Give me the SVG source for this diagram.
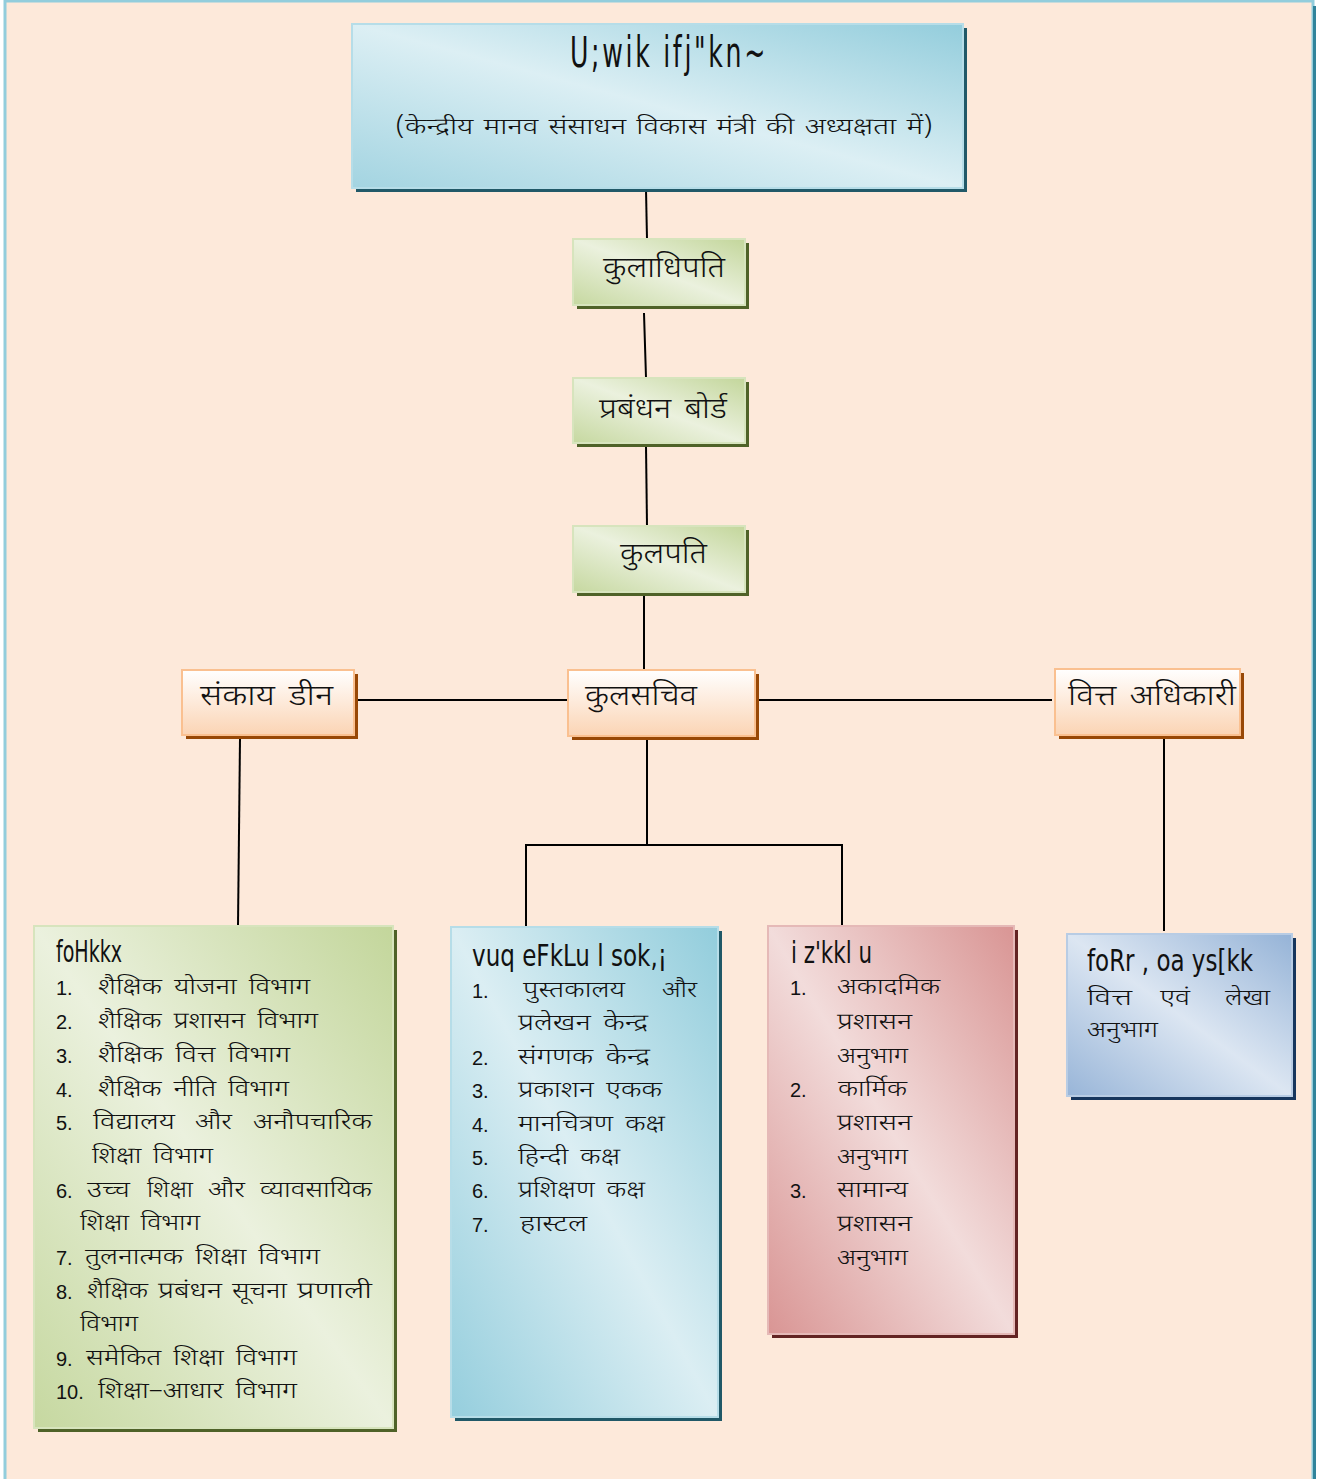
<svg xmlns="http://www.w3.org/2000/svg" width="1317" height="1479" viewBox="0 0 1317 1479">
<defs>
<linearGradient id="gTop" x1="0" y1="1" x2="1" y2="0"><stop offset="0" stop-color="#a3d4e1"/><stop offset="0.5" stop-color="#dcEff4"/><stop offset="1" stop-color="#93cddc"/></linearGradient>
<linearGradient id="gGreen" x1="0" y1="1" x2="1" y2="0"><stop offset="0" stop-color="#c6d8a0"/><stop offset="0.5" stop-color="#ebf1de"/><stop offset="1" stop-color="#c3d69b"/></linearGradient>
<linearGradient id="gOrange" x1="0" y1="0" x2="0" y2="1"><stop offset="0" stop-color="#ffffff"/><stop offset="1" stop-color="#fbd4b4"/></linearGradient>
<linearGradient id="gBlue" x1="0" y1="1" x2="1" y2="0"><stop offset="0" stop-color="#95cedd"/><stop offset="0.5" stop-color="#dbeef3"/><stop offset="1" stop-color="#92cddc"/></linearGradient>
<linearGradient id="gRed" x1="0" y1="1" x2="1" y2="0"><stop offset="0" stop-color="#d99594"/><stop offset="0.5" stop-color="#f2dcdb"/><stop offset="1" stop-color="#d99594"/></linearGradient>
<linearGradient id="gSky" x1="0" y1="1" x2="1" y2="0"><stop offset="0" stop-color="#98b5d8"/><stop offset="0.5" stop-color="#dce6f2"/><stop offset="1" stop-color="#95b3d7"/></linearGradient>
</defs>
<style>
.dv{font-family:"Noto Sans Devanagari","Noto Sans","Liberation Sans",sans-serif;fill:#111;font-weight:300}
.num{font-family:"Liberation Sans",Arial,sans-serif;font-size:20px;fill:#111}
.kd{font-family:"Liberation Sans Narrow","DejaVu Sans Condensed","Liberation Sans",sans-serif;fill:#111}
.t22{font-size:23px}
.t28{font-size:28px}
.conn{stroke:#000;stroke-width:2;fill:none}
</style>
<rect x="5" y="1" width="1308" height="1480" fill="#fde9da" stroke="#92cddc" stroke-width="3"/>
<rect x="1313" y="6" width="3" height="1473" fill="#31849b"/>

<g id="connectors">
<line class="conn" x1="646" y1="190" x2="647" y2="239"/>
<line class="conn" x1="644" y1="313" x2="646" y2="378"/>
<line class="conn" x1="646" y1="446" x2="647" y2="526"/>
<line class="conn" x1="644" y1="594" x2="644" y2="670"/>
<line class="conn" x1="356" y1="700" x2="568" y2="700"/>
<line class="conn" x1="758" y1="700" x2="1052" y2="700"/>
<line class="conn" x1="240" y1="739" x2="238" y2="926"/>
<polyline class="conn" points="647,739 647,845"/>
<polyline class="conn" points="526,928 526,845 842,845 842,926"/>
<line class="conn" x1="1164" y1="739" x2="1164" y2="931"/>
</g>

<g id="node-council">
<rect x="356" y="28" width="611" height="164" fill="#215968"/>
<rect x="352" y="24" width="611" height="164" fill="url(#gTop)" stroke="#b6dde8" stroke-width="2"/>
<text class="kd" x="570" y="67" font-size="42" textLength="198" lengthAdjust="spacingAndGlyphs" letter-spacing="4">U;wik ifj"kn~</text>
<text class="dv" x="395" y="134" font-size="23" textLength="538" lengthAdjust="spacingAndGlyphs" word-spacing="2">(केन्द्रीय मानव संसाधन  विकास मंत्री की अध्यक्षता में)</text>
</g>

<g id="node-kuladhipati">
<rect x="577" y="243" width="172" height="66" fill="#4f6228"/>
<rect x="573" y="239" width="172" height="66" fill="url(#gGreen)" stroke="#d7e4bd" stroke-width="2"/>
<text class="dv t28" x="603" y="277" textLength="122" lengthAdjust="spacingAndGlyphs">कुलाधिपति</text>
</g>

<g id="node-board">
<rect x="577" y="382" width="172" height="65" fill="#4f6228"/>
<rect x="573" y="378" width="172" height="65" fill="url(#gGreen)" stroke="#d7e4bd" stroke-width="2"/>
<text class="dv t28" x="599" y="418" textLength="128" lengthAdjust="spacingAndGlyphs" word-spacing="4">प्रबंधन बोर्ड</text>
</g>

<g id="node-kulpati">
<rect x="577" y="530" width="172" height="66" fill="#4f6228"/>
<rect x="573" y="526" width="172" height="66" fill="url(#gGreen)" stroke="#d7e4bd" stroke-width="2"/>
<text class="dv t28" x="620" y="563" textLength="87" lengthAdjust="spacingAndGlyphs">कुलपति</text>
</g>

<g id="node-dean">
<rect x="186" y="674" width="172" height="65" fill="#984806"/>
<rect x="182" y="670" width="172" height="65" fill="url(#gOrange)" stroke="#fac090" stroke-width="2"/>
<text class="dv t28" x="200" y="705" textLength="133" lengthAdjust="spacingAndGlyphs" word-spacing="4">संकाय डीन</text>
</g>

<g id="node-registrar">
<rect x="572" y="674" width="187" height="66" fill="#984806"/>
<rect x="568" y="670" width="187" height="66" fill="url(#gOrange)" stroke="#fac090" stroke-width="2"/>
<text class="dv t28" x="585" y="705" textLength="112" lengthAdjust="spacingAndGlyphs">कुलसचिव</text>
</g>

<g id="node-finance-officer">
<rect x="1059" y="673" width="185" height="66" fill="#984806"/>
<rect x="1055" y="669" width="185" height="66" fill="url(#gOrange)" stroke="#fac090" stroke-width="2"/>
<text class="dv t28" x="1068" y="705" textLength="168" lengthAdjust="spacingAndGlyphs" word-spacing="4">वित्त अधिकारी</text>
</g>

<g id="node-departments">
<rect x="38" y="930" width="359" height="502" fill="#4f6228"/>
<rect x="34" y="926" width="359" height="502" fill="url(#gGreen)" stroke="#d7e4bd" stroke-width="2"/>
<text class="kd" x="56" y="962" font-size="30" textLength="66" lengthAdjust="spacingAndGlyphs">foHkkx</text>
<text class="num" x="56" y="995">1.</text><text class="dv t22" x="98" y="994" textLength="212" lengthAdjust="spacingAndGlyphs" word-spacing="4">शैक्षिक योजना विभाग</text>
<text class="num" x="56" y="1029">2.</text><text class="dv t22" x="98" y="1028" textLength="220" lengthAdjust="spacingAndGlyphs" word-spacing="4">शैक्षिक प्रशासन विभाग</text>
<text class="num" x="56" y="1063">3.</text><text class="dv t22" x="98" y="1062" textLength="192" lengthAdjust="spacingAndGlyphs" word-spacing="4">शैक्षिक वित्त विभाग</text>
<text class="num" x="56" y="1097">4.</text><text class="dv t22" x="98" y="1096" textLength="191" lengthAdjust="spacingAndGlyphs" word-spacing="4">शैक्षिक नीति विभाग</text>
<text class="num" x="56" y="1130">5.</text>
<text class="dv t22" x="93" y="1129" textLength="82" lengthAdjust="spacingAndGlyphs">विद्यालय</text>
<text class="dv t22" x="195" y="1129" textLength="37" lengthAdjust="spacingAndGlyphs">और</text>
<text class="dv t22" x="253" y="1129" textLength="119" lengthAdjust="spacingAndGlyphs">अनौपचारिक</text>
<text class="dv t22" x="92" y="1163" textLength="121" lengthAdjust="spacingAndGlyphs" word-spacing="4">शिक्षा विभाग</text>
<text class="num" x="56" y="1198">6.</text>
<text class="dv t22" x="87" y="1197" textLength="43" lengthAdjust="spacingAndGlyphs">उच्च</text>
<text class="dv t22" x="147" y="1197" textLength="46" lengthAdjust="spacingAndGlyphs">शिक्षा</text>
<text class="dv t22" x="208" y="1197" textLength="37" lengthAdjust="spacingAndGlyphs">और</text>
<text class="dv t22" x="260" y="1197" textLength="112" lengthAdjust="spacingAndGlyphs">व्यावसायिक</text>
<text class="dv t22" x="80" y="1230" textLength="120" lengthAdjust="spacingAndGlyphs" word-spacing="4">शिक्षा विभाग</text>
<text class="num" x="56" y="1265">7.</text><text class="dv t22" x="85" y="1264" textLength="235" lengthAdjust="spacingAndGlyphs" word-spacing="4">तुलनात्मक शिक्षा विभाग</text>
<text class="num" x="56" y="1299">8.</text>
<text class="dv t22" x="87" y="1298" textLength="61" lengthAdjust="spacingAndGlyphs">शैक्षिक</text>
<text class="dv t22" x="158" y="1298" textLength="64" lengthAdjust="spacingAndGlyphs">प्रबंधन</text>
<text class="dv t22" x="232" y="1298" textLength="55" lengthAdjust="spacingAndGlyphs">सूचना</text>
<text class="dv t22" x="297" y="1298" textLength="75" lengthAdjust="spacingAndGlyphs">प्रणाली</text>
<text class="dv t22" x="80" y="1331" textLength="58" lengthAdjust="spacingAndGlyphs">विभाग</text>
<text class="num" x="56" y="1366">9.</text><text class="dv t22" x="86" y="1365" textLength="211" lengthAdjust="spacingAndGlyphs" word-spacing="4">समेकित शिक्षा विभाग</text>
<text class="num" x="56" y="1399">10.</text><text class="dv t22" x="98" y="1398" textLength="199" lengthAdjust="spacingAndGlyphs" word-spacing="4">शिक्षा–आधार विभाग</text>
</g>

<g id="node-academic-support">
<rect x="455" y="931" width="267" height="490" fill="#205867"/>
<rect x="451" y="927" width="267" height="490" fill="url(#gBlue)" stroke="#b6dde8" stroke-width="2"/>
<text class="kd" x="472" y="966" font-size="30" textLength="195" lengthAdjust="spacingAndGlyphs">vuq eFkLu l sok,¡</text>
<text class="num" x="472" y="998">1.</text>
<text class="dv t22" x="523" y="997" textLength="102" lengthAdjust="spacingAndGlyphs">पुस्तकालय</text>
<text class="dv t22" x="662" y="997" textLength="35" lengthAdjust="spacingAndGlyphs">और</text>
<text class="dv t22" x="518" y="1030" textLength="130" lengthAdjust="spacingAndGlyphs" word-spacing="4">प्रलेखन केन्द्र</text>
<text class="num" x="472" y="1065">2.</text><text class="dv t22" x="518" y="1064" textLength="132" lengthAdjust="spacingAndGlyphs" word-spacing="4">संगणक केन्द्र</text>
<text class="num" x="472" y="1098">3.</text><text class="dv t22" x="518" y="1097" textLength="144" lengthAdjust="spacingAndGlyphs" word-spacing="4">प्रकाशन एकक</text>
<text class="num" x="472" y="1132">4.</text><text class="dv t22" x="518" y="1131" textLength="147" lengthAdjust="spacingAndGlyphs" word-spacing="4">मानचित्रण कक्ष</text>
<text class="num" x="472" y="1165">5.</text><text class="dv t22" x="518" y="1164" textLength="102" lengthAdjust="spacingAndGlyphs" word-spacing="4">हिन्दी कक्ष</text>
<text class="num" x="472" y="1198">6.</text><text class="dv t22" x="518" y="1197" textLength="127" lengthAdjust="spacingAndGlyphs" word-spacing="4">प्रशिक्षण कक्ष</text>
<text class="num" x="472" y="1232">7.</text><text class="dv t22" x="520" y="1231" textLength="67" lengthAdjust="spacingAndGlyphs">हास्टल</text>
</g>

<g id="node-administration">
<rect x="772" y="930" width="246" height="408" fill="#632423"/>
<rect x="768" y="926" width="246" height="408" fill="url(#gRed)" stroke="#e5b9b7" stroke-width="2"/>
<text class="kd" x="791" y="963" font-size="30" textLength="81" lengthAdjust="spacingAndGlyphs">i z'kkl u</text>
<text class="num" x="790" y="995">1.</text><text class="dv t22" x="837" y="994" textLength="103" lengthAdjust="spacingAndGlyphs">अकादमिक</text>
<text class="dv t22" x="837" y="1029" textLength="75" lengthAdjust="spacingAndGlyphs">प्रशासन</text>
<text class="dv t22" x="837" y="1063" textLength="71" lengthAdjust="spacingAndGlyphs">अनुभाग</text>
<text class="num" x="790" y="1097">2.</text><text class="dv t22" x="838" y="1096" textLength="69" lengthAdjust="spacingAndGlyphs">कार्मिक</text>
<text class="dv t22" x="837" y="1130" textLength="75" lengthAdjust="spacingAndGlyphs">प्रशासन</text>
<text class="dv t22" x="837" y="1164" textLength="71" lengthAdjust="spacingAndGlyphs">अनुभाग</text>
<text class="num" x="790" y="1198">3.</text><text class="dv t22" x="837" y="1197" textLength="71" lengthAdjust="spacingAndGlyphs">सामान्य</text>
<text class="dv t22" x="837" y="1231" textLength="75" lengthAdjust="spacingAndGlyphs">प्रशासन</text>
<text class="dv t22" x="837" y="1265" textLength="71" lengthAdjust="spacingAndGlyphs">अनुभाग</text>
</g>

<g id="node-finance-accounts">
<rect x="1071" y="938" width="225" height="162" fill="#17365d"/>
<rect x="1067" y="934" width="225" height="162" fill="url(#gSky)" stroke="#b8cce4" stroke-width="2"/>
<text class="kd" x="1087" y="971" font-size="30" textLength="166" lengthAdjust="spacingAndGlyphs">foRr  , oa ys[kk</text>
<text class="dv t22" x="1087" y="1005" textLength="45" lengthAdjust="spacingAndGlyphs">वित्त</text>
<text class="dv t22" x="1160" y="1005" textLength="30" lengthAdjust="spacingAndGlyphs">एवं</text>
<text class="dv t22" x="1225" y="1005" textLength="45" lengthAdjust="spacingAndGlyphs">लेखा</text>
<text class="dv t22" x="1087" y="1037" textLength="71" lengthAdjust="spacingAndGlyphs">अनुभाग</text>
</g>
</svg>
